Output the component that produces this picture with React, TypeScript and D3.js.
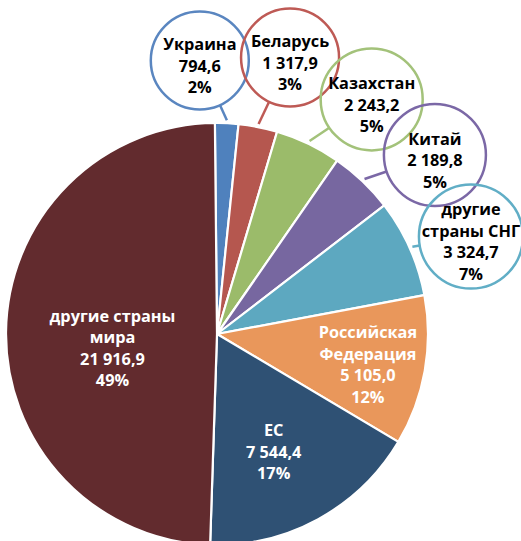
import React from "react";
import * as d3 from "d3";

// export by country, values and shares as printed on the chart
const names = ["Украина", "Беларусь", "Казахстан", "Китай", "другие страны СНГ", "Российская Федерация", "ЕС", "другие страны мира"];
const nameLines = [["Украина"], ["Беларусь"], ["Казахстан"], ["Китай"], ["другие", "страны СНГ"], ["Российская", "Федерация"], ["ЕС"], ["другие страны", "мира"]];
const values = [794.6, 1317.9, 2243.2, 2189.8, 3324.7, 5105.0, 7544.4, 21916.9];
const percents = ["2%", "3%", "5%", "5%", "7%", "12%", "17%", "49%"];
const colors = ["#4F81BD", "#B5574F", "#9BBB6A", "#7767A0", "#5DA8C0", "#E9975B", "#2F5174", "#622B2E"];
const bubbleColors = ["#5A86C0", "#BE5A55", "#A3C27A", "#7B68A6", "#61AEC6"];

const W = 521;
const H = 541;
const cx = 217;
const cy = 334;
const R = 211;
const fontFamily = "'Open Sans', 'DejaVu Sans', sans-serif";

const locale = d3.formatLocale({ decimal: ",", thousands: " ", grouping: [3], currency: ["", ""] });
const fmt = locale.format(",.1f");

// small slices get bubbles outside, the big ones are labelled inside
const bubbleAngle = [-3.6, 14.8, 33.4, 50.6, 69]; // degrees, clockwise from 12 o'clock
const bubbleDist = [274, 286, 281, 282, 272];
const bubbleR = [49, 49, 51, 51, 52];
const insideRadius: { [k: number]: number } = { 5: 0.73, 6: 0.62, 7: 0.5 };
const insideShift: { [k: number]: number } = { 5: 1.5, 6: 3, 7: -8.4 }; // degrees

function polar(angleDeg: number, r: number): [number, number] {
  const a = (angleDeg * Math.PI) / 180;
  return [r * Math.sin(a), -r * Math.cos(a)];
}

function Label({ x, y, lines, fill }: { x: number; y: number; lines: string[]; fill: string }) {
  const lh = 21.5;
  const top = y - ((lines.length - 1) * lh) / 2;
  return (
    <text textAnchor="middle" fill={fill} style={{ fontFamily, fontWeight: 700, fontSize: 16.3 }}>
      {lines.map((l, i) => (
        <tspan key={i} x={x} y={top + i * lh} dy="0.35em">{l}</tspan>
      ))}
    </text>
  );
}

export default function App() {
  const data = names.map((n, i) => ({ name: n, value: values[i], i }));
  const pie = d3.pie<any>().value((d) => d.value).sort(null).startAngle(-0.01).endAngle(2 * Math.PI - 0.01);
  const arcs = pie(data);
  const arc = d3.arc<any>().innerRadius(0).outerRadius(R);

  return (
    <svg width={W} height={H} style={{ position: "absolute", left: 0, top: 0, background: "#fff" }}>
      <g transform={`translate(${cx},${cy})`}>
        {arcs.map((a, i) => (
          <path key={i} d={arc(a) as string} fill={colors[i]} stroke="#fff" strokeWidth={2.2} strokeLinejoin="round" />
        ))}
        {arcs.map((a, i) => {
          if (i >= 5) {
            const mid = ((a.startAngle + a.endAngle) / 2) * 180 / Math.PI + insideShift[i];
            const [x, y] = polar(mid, R * insideRadius[i]);
            return <Label key={i} x={x} y={y} lines={[...nameLines[i], fmt(values[i]), percents[i]]} fill="#fff" />;
          }
          const mid = ((a.startAngle + a.endAngle) / 2) * 180 / Math.PI;
          const [px, py] = polar(mid, R + 3);
          const [bx, by] = polar(bubbleAngle[i], bubbleDist[i]);
          const dx = px - bx;
          const dy = py - by;
          const len = Math.sqrt(dx * dx + dy * dy);
          const ex = bx + (dx / len) * bubbleR[i];
          const ey = by + (dy / len) * bubbleR[i];
          return (
            <g key={i}>
              <line x1={px} y1={py} x2={ex} y2={ey} stroke={bubbleColors[i]} strokeWidth={2.5} />
              <circle cx={bx} cy={by} r={bubbleR[i]} fill="none" stroke={bubbleColors[i]} strokeWidth={2.5} />
              <Label x={bx} y={by + 5.5} lines={[...nameLines[i], fmt(values[i]), percents[i]]} fill="#000" />
            </g>
          );
        })}
      </g>
    </svg>
  );
}
